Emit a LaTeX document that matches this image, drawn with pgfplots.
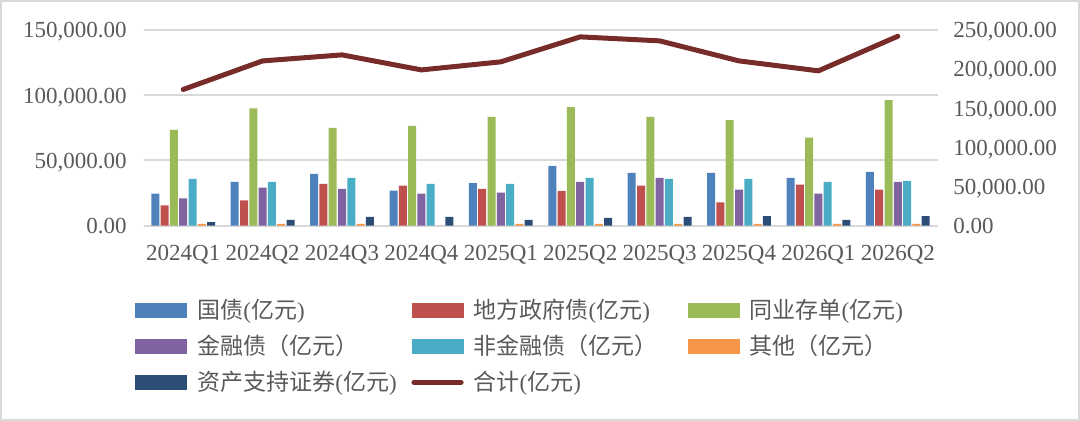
\documentclass[border=0pt]{standalone}
\usepackage{pgfplots}
\pgfplotsset{compat=1.18}
\usepackage{pgfplotstable}
\usepackage{fontspec}
\setmainfont{Liberation Serif}
\newfontfamily\cjk{Noto Sans CJK SC}
\definecolor{cGZ}{HTML}{4F81BD}
\definecolor{cDF}{HTML}{C0504D}
\definecolor{cTY}{HTML}{9BBB59}
\definecolor{cJR}{HTML}{8064A2}
\definecolor{cFJR}{HTML}{4BACC6}
\definecolor{cQT}{HTML}{F79646}
\definecolor{cABS}{HTML}{2C4D75}
\definecolor{cTOT}{HTML}{772C2A}
\definecolor{txt}{HTML}{595959}
\definecolor{gridc}{HTML}{D9D9D9}

\pgfplotstableread{
x gz df ty jr fjr qt abs tot
0 24500 15600 73400 21000 35800 1300 2800 174000
1 33500 19500 90000 29100 33500 1300 4400 210500
2 39700 32000 74900 28200 36600 1300 6700 218200
3 26800 30700 76500 24500 32000 0 6700 199000
4 32700 28200 83400 25300 32000 1300 4400 209300
5 45800 26600 90800 33500 36600 1300 5900 241200
6 40400 30700 83400 36600 35800 1300 6700 236100
7 40400 17900 81000 27600 35800 1300 7400 210500
8 36600 31400 67500 24500 33500 1300 4400 197800
9 41200 27600 96200 33500 34300 1300 7400 242000
}\datatable

\pgfplotsset{
  mybar/.style 2 args={ybar, bar width=4pt, bar shift=#2, fill=#1, draw=none,
    legend image code/.code={\fill[#1] (0pt,-3.6pt) rectangle (26pt,3.6pt);}},
}
\newcommand{\legtxt}[1]{\hspace{5pt}\makebox[107pt][l]{#1}}
\newcommand{\fs}{\fontsize{11.5}{13.8}\selectfont}

\begin{document}
\begin{tikzpicture}
\useasboundingbox (0,0) rectangle (540pt,210.5pt);
\draw[gridc, line width=1pt] (0.5pt,0.5pt) rectangle (539.5pt,210pt);
\begin{axis}[
  at={(71.75pt,97.65pt)}, anchor=south west,
  scale only axis, width=397pt, height=97.85pt,
  xmin=-0.5, xmax=9.5, ymin=0, ymax=150000,
  xtick={0,...,9},
  xticklabels={2024Q1,2024Q2,2024Q3,2024Q4,2025Q1,2025Q2,2025Q3,2025Q4,2026Q1,2026Q2},
  ytick={0,50000,100000,150000},
  axis x line*=bottom, axis y line*=left,
  y axis line style={draw=none},
  x axis line style={draw=gridc, line width=1pt},
  major tick length=0pt,
  ymajorgrids, grid style={draw=gridc, line width=1pt},
  tick label style={font=\fs, text=txt, inner sep=0pt},
  xticklabel style={anchor=north, yshift=-9.6pt},
  yticklabel style={anchor=base east, xshift=-8.25pt, yshift=-3.9pt},
  scaled y ticks=false,
  y tick label style={/pgf/number format/.cd, fixed, fixed zerofill, precision=2, 1000 sep={,}, assume math mode=true},
  legend columns=3, legend cell align=left,
  legend style={at={(-0.0107,-0.3388)}, anchor=north west, draw=none, fill=none,
    inner sep=0pt, column sep=0pt, row sep=0pt,
    nodes={inner sep=0pt, text height=13.2pt, text depth=4.8pt}, font=\fs, text=txt},
]
\addplot[mybar={cGZ}{-13.95pt}] table[x=x,y=gz]{\datatable};
\addlegendentry{\legtxt{{\cjk 国债}({\cjk 亿元})}}
\addplot[mybar={cDF}{-9.3pt}] table[x=x,y=df]{\datatable};
\addlegendentry{\legtxt{{\cjk 地方政府债}({\cjk 亿元})}}
\addplot[mybar={cTY}{-4.65pt}] table[x=x,y=ty]{\datatable};
\addlegendentry{\legtxt{{\cjk 同业存单}({\cjk 亿元})}}
\addplot[mybar={cJR}{0pt}] table[x=x,y=jr]{\datatable};
\addlegendentry{\legtxt{{\cjk 金融债（亿元）}}}
\addplot[mybar={cFJR}{4.65pt}] table[x=x,y=fjr]{\datatable};
\addlegendentry{\legtxt{{\cjk 非金融债（亿元）}}}
\addplot[mybar={cQT}{9.3pt}] table[x=x,y=qt]{\datatable};
\addlegendentry{\legtxt{{\cjk 其他（亿元）}}}
\addplot[mybar={cABS}{13.95pt}] table[x=x,y=abs]{\datatable};
\addlegendentry{\legtxt{{\cjk 资产支持证券}({\cjk 亿元})}}
\addlegendimage{legend image code/.code={\draw[cTOT, line width=2.5pt, line cap=round] (1.2pt,0pt) -- (24.8pt,0pt);}}
\addlegendentry{\legtxt{{\cjk 合计}({\cjk 亿元})}}
\end{axis}
\begin{axis}[
  at={(71.75pt,97.65pt)}, anchor=south west,
  scale only axis, width=397pt, height=97.85pt,
  xmin=-0.5, xmax=9.5, ymin=0, ymax=250000,
  axis x line=none, axis y line*=right,
  y axis line style={draw=none},
  major tick length=0pt,
  ytick={0,50000,100000,150000,200000,250000},
  tick label style={font=\fs, text=txt, inner sep=0pt},
  yticklabel style={anchor=base west, xshift=7.75pt, yshift=-3.9pt},
  scaled y ticks=false,
  y tick label style={/pgf/number format/.cd, fixed, fixed zerofill, precision=2, 1000 sep={,}, assume math mode=true},
]
\addplot[color=cTOT, line width=2.5pt, line cap=round, line join=round] table[x=x,y=tot]{\datatable};
\end{axis}
\end{tikzpicture}
\end{document}
